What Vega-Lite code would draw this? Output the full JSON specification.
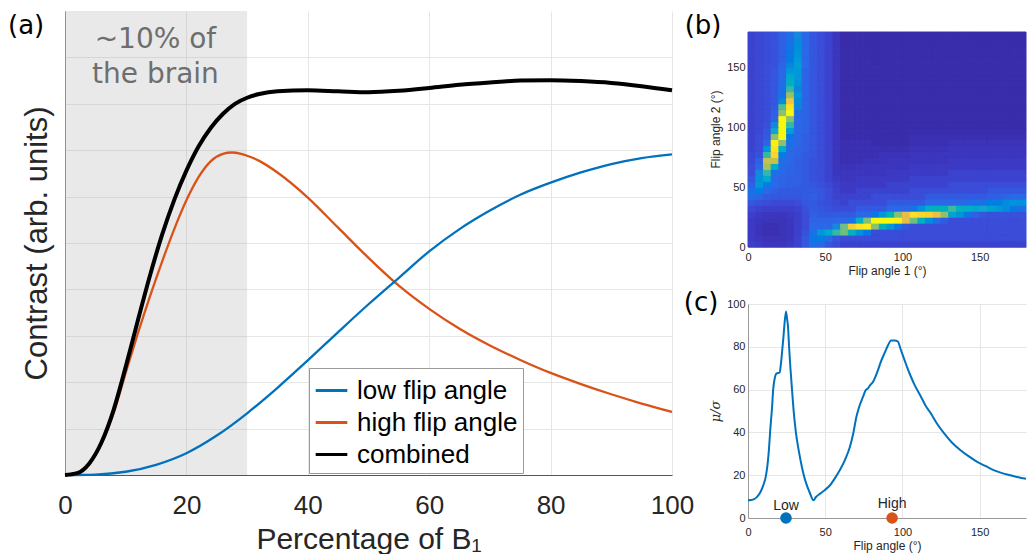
{
"$schema":"https://vega.github.io/schema/vega-lite/v6.json",
"background":"white",
"padding":{"left":8,"top":11,"right":0,"bottom":0},
"config":{"view":{"stroke":null},"font":"Liberation Sans",
"axis":{"labelFont":"Liberation Sans","titleFont":"Liberation Sans","titleFontWeight":"normal","labelColor":"#262626","titleColor":"#262626","labelFlush":false,"labelOverlap":false,"ticks":false,"domainColor":"#808080","gridColor":"#e6e6e6"}},
"resolve":{"scale":{"color":"independent","stroke":"independent"}},
"datasets":{
"curves":[
{"s":"combined","x":0,"v":0},{"s":"combined","x":2,"v":0.04},{"s":"combined","x":4,"v":0.25},{"s":"combined","x":6,"v":0.7},{"s":"combined","x":8,"v":1.4},{"s":"combined","x":10,"v":2.33},{"s":"combined","x":12,"v":3.33},{"s":"combined","x":14,"v":4.3},{"s":"combined","x":16,"v":5.18},{"s":"combined","x":18,"v":5.93},{"s":"combined","x":20,"v":6.56},{"s":"combined","x":22,"v":7.08},{"s":"combined","x":24,"v":7.48},{"s":"combined","x":26,"v":7.78},{"s":"combined","x":28,"v":8.0},{"s":"combined","x":30,"v":8.13},{"s":"combined","x":32,"v":8.21},{"s":"combined","x":35,"v":8.27},{"s":"combined","x":40,"v":8.29},{"s":"combined","x":45,"v":8.27},{"s":"combined","x":50,"v":8.25},{"s":"combined","x":55,"v":8.28},{"s":"combined","x":60,"v":8.34},{"s":"combined","x":65,"v":8.41},{"s":"combined","x":70,"v":8.46},{"s":"combined","x":75,"v":8.5},{"s":"combined","x":80,"v":8.51},{"s":"combined","x":85,"v":8.49},{"s":"combined","x":90,"v":8.45},{"s":"combined","x":95,"v":8.38},{"s":"combined","x":100,"v":8.29},
{"s":"high flip angle","x":0,"v":0},{"s":"high flip angle","x":2,"v":0.04},{"s":"high flip angle","x":4,"v":0.24},{"s":"high flip angle","x":6,"v":0.67},{"s":"high flip angle","x":8,"v":1.33},{"s":"high flip angle","x":10,"v":2.2},{"s":"high flip angle","x":12,"v":3.05},{"s":"high flip angle","x":14,"v":3.85},{"s":"high flip angle","x":16,"v":4.6},{"s":"high flip angle","x":18,"v":5.3},{"s":"high flip angle","x":20,"v":5.92},{"s":"high flip angle","x":22,"v":6.42},{"s":"high flip angle","x":24,"v":6.76},{"s":"high flip angle","x":26,"v":6.92},{"s":"high flip angle","x":27.5,"v":6.95},{"s":"high flip angle","x":29,"v":6.92},{"s":"high flip angle","x":30,"v":6.88},{"s":"high flip angle","x":32,"v":6.77},{"s":"high flip angle","x":35,"v":6.52},{"s":"high flip angle","x":40,"v":5.98},{"s":"high flip angle","x":45,"v":5.33},{"s":"high flip angle","x":50,"v":4.68},{"s":"high flip angle","x":55,"v":4.08},{"s":"high flip angle","x":60,"v":3.58},{"s":"high flip angle","x":65,"v":3.15},{"s":"high flip angle","x":70,"v":2.79},{"s":"high flip angle","x":75,"v":2.48},{"s":"high flip angle","x":80,"v":2.2},{"s":"high flip angle","x":85,"v":1.96},{"s":"high flip angle","x":90,"v":1.74},{"s":"high flip angle","x":95,"v":1.54},{"s":"high flip angle","x":100,"v":1.36},
{"s":"low flip angle","x":0,"v":0},{"s":"low flip angle","x":5,"v":0.01},{"s":"low flip angle","x":10,"v":0.07},{"s":"low flip angle","x":15,"v":0.22},{"s":"low flip angle","x":20,"v":0.47},{"s":"low flip angle","x":25,"v":0.85},{"s":"low flip angle","x":30,"v":1.33},{"s":"low flip angle","x":35,"v":1.88},{"s":"low flip angle","x":40,"v":2.47},{"s":"low flip angle","x":45,"v":3.08},{"s":"low flip angle","x":50,"v":3.68},{"s":"low flip angle","x":55,"v":4.25},{"s":"low flip angle","x":60,"v":4.82},{"s":"low flip angle","x":65,"v":5.3},{"s":"low flip angle","x":70,"v":5.7},{"s":"low flip angle","x":75,"v":6.04},{"s":"low flip angle","x":80,"v":6.3},{"s":"low flip angle","x":85,"v":6.52},{"s":"low flip angle","x":90,"v":6.7},{"s":"low flip angle","x":95,"v":6.83},{"s":"low flip angle","x":100,"v":6.91}
],
"heat":[
{"k":1,"y0":0,"y1":5,"vs":[7,6,5,5,5,6,8,12,18,16,12,10,8,8,8,8,8,8,8,8,8,8,8,8,8,8,8,8,8,8,8,8,8,8,8,8]},
{"k":1,"y0":5,"y1":10,"vs":[6,5,4,4,4,5,8,12,20,22,17,12,10,10,10,10,10,10,10,10,10,10,10,10,10,10,10,10,10,10,10,10,10,10,10,10]},
{"k":1,"y0":10,"y1":15,"vs":[6,4,3,3,4,5,7,11,18,30,38,50,60,44,28,20,10,10,10,10,10,10,10,10,10,10,10,10,10,10,10,10,10,10,10,10]},
{"k":1,"y0":15,"y1":20,"vs":[6,4,3,3,4,5,7,10,16,16,16,25,60,88,95,98,65,45,30,20,12,10,10,10,10,10,10,10,10,10,10,10,10,10,10,10]},
{"k":1,"y0":20,"y1":25,"vs":[6,5,4,4,4,5,7,10,15,15,15,16,16,18,43,64,100,100,100,98,80,60,41,27,17,13,10,10,10,10,10,10,10,10,10,10]},
{"k":1,"y0":25,"y1":30,"vs":[7,6,5,5,5,6,7,10,14,13,13,13,13,13,16,16,20,30,45,64,80,94,92,90,82,65,34,29,20,14,12,11,11,11,11,11]},
{"k":1,"y0":30,"y1":35,"vs":[9,8,7,7,7,7,8,11,13,12,11,10,10,10,13,13,13,13,16,16,16,19,28,40,45,42,52,44,40,37,35,33,31,26,20,18]},
{"k":1,"y0":35,"y1":40,"vs":[12,11,10,9,9,9,10,12,13,11,10,9,8,10,10,10,10,10,13,13,13,13,13,16,16,16,16,16,17,18,18,22,22,26,29,28]},
{"k":1,"y0":40,"y1":45,"vs":[17,15,13,12,12,12,12,13,14,12,10,8,8,8,8,8,10,10,10,10,10,10,10,13,13,13,13,13,13,13,13,14,14,15,16,16]},
{"k":1,"y0":45,"y1":50,"vs":[18,22,16,14,13,13,13,13,13,12,10,8,6,6,8,8,8,8,8,8,8,10,10,10,10,10,10,10,10,10,10,12,12,12,12,12]},
{"k":1,"y0":50,"y1":55,"vs":[14,30,22,16,15,14,14,13,12,11,9,7,6,6,6,6,6,6,8,8,8,8,8,8,8,8,10,10,10,10,10,10,10,10,10,10]},
{"k":1,"y0":55,"y1":60,"vs":[12,28,38,16,15,14,14,13,11,10,8,6,5,5,6,6,6,6,6,6,6,8,8,8,8,8,8,8,8,8,8,8,8,8,8,8]},
{"k":1,"y0":60,"y1":65,"vs":[10,25,50,18,16,15,14,13,11,10,8,5,5,5,5,5,5,5,6,6,6,6,6,6,6,6,8,8,8,8,8,8,8,8,8,8]},
{"k":1,"y0":65,"y1":70,"vs":[10,16,70,40,17,15,14,13,11,10,8,5,4,4,5,5,5,5,5,5,5,6,6,6,6,6,6,6,6,6,6,6,6,6,6,6]},
{"k":1,"y0":70,"y1":75,"vs":[9,14,75,75,18,16,14,13,11,10,8,5,3,3,3,4,4,4,5,5,5,5,5,5,5,5,6,6,6,6,6,6,6,6,6,6]},
{"k":1,"y0":75,"y1":80,"vs":[9,11,50,92,22,16,15,13,12,10,8,5,3,3,3,3,3,4,4,4,4,5,5,5,5,5,5,5,5,5,5,5,5,5,5,5]},
{"k":1,"y0":80,"y1":85,"vs":[8,10,28,95,40,17,15,14,12,10,8,5,3,3,3,3,3,3,3,3,3,4,4,4,4,4,5,5,5,5,5,5,5,5,5,5]},
{"k":1,"y0":85,"y1":90,"vs":[8,10,15,98,65,18,16,14,12,10,8,5,3,3,3,3,2,2,2,2,2,3,3,3,3,3,4,4,4,4,4,4,4,4,4,4]},
{"k":1,"y0":90,"y1":95,"vs":[8,10,13,65,100,20,16,14,12,10,8,5,2,2,2,2,2,2,2,2,2,3,3,3,3,3,3,3,3,3,3,3,3,3,3,3]},
{"k":1,"y0":95,"y1":100,"vs":[8,9,12,35,100,32,16,15,12,10,8,5,2,2,2,2,2,2,2,2,2,2,2,2,2,2,2,2,2,2,2,2,2,2,2,2]},
{"k":1,"y0":100,"y1":105,"vs":[8,9,11,25,100,50,16,15,12,10,8,5,2,2,2,2,2,2,2,2,2,2,2,2,2,2,2,2,2,2,2,2,2,2,2,2]},
{"k":1,"y0":105,"y1":110,"vs":[8,9,10,15,100,65,16,15,12,10,8,5,2,2,2,2,2,2,2,2,2,2,2,2,2,2,2,2,2,2,2,2,2,2,2,2]},
{"k":1,"y0":110,"y1":115,"vs":[8,9,10,14,65,100,17,15,12,10,8,5,2,2,2,2,2,2,2,2,2,2,2,2,2,2,2,2,2,2,2,2,2,2,2,2]},
{"k":1,"y0":115,"y1":120,"vs":[8,9,10,13,55,95,24,15,12,10,8,5,2,2,2,2,2,2,2,2,2,2,2,2,2,2,2,2,2,2,2,2,2,2,2,2]},
{"k":1,"y0":120,"y1":125,"vs":[8,9,10,12,26,85,26,15,12,10,8,5,2,2,2,2,2,2,2,2,2,2,2,2,2,2,2,2,2,2,2,2,2,2,2,2]},
{"k":1,"y0":125,"y1":130,"vs":[8,9,10,12,18,68,29,15,12,10,8,5,2,2,2,2,2,2,2,2,2,2,2,2,2,2,2,2,2,2,2,2,2,2,2,2]},
{"k":1,"y0":130,"y1":135,"vs":[8,9,10,12,18,50,24,15,12,10,8,5,2,2,2,2,2,2,2,2,2,2,2,2,2,2,2,2,2,2,2,2,2,2,2,2]},
{"k":1,"y0":135,"y1":140,"vs":[8,9,10,12,17,42,28,15,12,10,8,5,2,2,2,2,2,2,2,2,2,2,2,2,2,2,2,2,2,2,2,2,2,2,2,2]},
{"k":1,"y0":140,"y1":145,"vs":[8,9,10,12,16,37,30,15,12,10,8,5,2,2,2,2,2,2,2,2,2,2,2,2,2,2,2,2,2,2,2,2,2,2,2,2]},
{"k":1,"y0":145,"y1":150,"vs":[8,9,10,12,16,30,30,15,12,10,8,5,2,2,2,2,2,2,2,2,2,2,2,2,2,2,2,2,2,2,2,2,2,2,2,2]},
{"k":1,"y0":150,"y1":155,"vs":[8,9,10,11,15,24,32,16,12,10,8,5,2,2,2,2,2,2,2,2,2,2,2,2,2,2,2,2,2,2,2,2,2,2,2,2]},
{"k":1,"y0":155,"y1":160,"vs":[8,9,10,11,14,21,30,16,12,10,8,5,2,2,2,2,2,2,2,2,2,2,2,2,2,2,2,2,2,2,2,2,2,2,2,2]},
{"k":1,"y0":160,"y1":165,"vs":[8,9,10,11,14,20,28,16,12,10,8,5,2,2,2,2,2,2,2,2,2,2,2,2,2,2,2,2,2,2,2,2,2,2,2,2]},
{"k":1,"y0":165,"y1":170,"vs":[8,9,10,11,14,19,27,16,12,10,8,5,2,2,2,2,2,2,2,2,2,2,2,2,2,2,2,2,2,2,2,2,2,2,2,2]},
{"k":1,"y0":170,"y1":175,"vs":[8,9,10,11,14,18,26,16,12,10,8,5,2,2,2,2,2,2,2,2,2,2,2,2,2,2,2,2,2,2,2,2,2,2,2,2]},
{"k":1,"y0":175,"y1":180,"vs":[8,9,10,11,14,17,25,16,12,10,8,5,2,2,2,2,2,2,2,2,2,2,2,2,2,2,2,2,2,2,2,2,2,2,2,2]}
],
"cols":[{"k":1,"xs":[0,5,10,15,20,25,30,35,40,45,50,55,60,65,70,75,80,85,90,95,100,105,110,115,120,125,130,135,140,145,150,155,160,165,170,175],"xe":[5,10,15,20,25,30,35,40,45,50,55,60,65,70,75,80,85,90,95,100,105,110,115,120,125,130,135,140,145,150,155,160,165,170,175,180]}]
},
"hconcat":[
{
"width":607,"height":464,
"layer":[
{"data":{"values":[{"a":0,"b":30,"lo":0,"hi":10}]},
"mark":{"type":"rect","color":"#a8a8a8","opacity":0.25},
"encoding":{
"x":{"field":"a","type":"quantitative","scale":{"domain":[0,100],"nice":false},"title":"Percentage of B₁",
"axis":{"values":[0,20,40,60,80,100],"grid":true,"labelFontSize":26,"labelPadding":17,"titleFontSize":30,"titlePadding":6,"domainColor":"#555555"}},
"x2":{"field":"b"},
"y":{"field":"lo","type":"quantitative","scale":{"domain":[0,10],"nice":false},"title":"Contrast (arb. units)",
"axis":{"values":[0,1,2,3,4,5,6,7,8,9],"grid":true,"labels":false,"titleFontSize":31,"titlePadding":12,"domainColor":"#8a8a8a"}},
"y2":{"field":"hi"}}},
{"data":{"values":[{"x":14.9,"v":9.2,"t":"~10% of"},{"x":14.9,"v":8.44,"t":"the brain"}]},
"mark":{"type":"text","font":"DejaVu Sans","fontSize":28,"color":"#6e6e6e","align":"center","baseline":"alphabetic"},
"encoding":{"x":{"field":"x","type":"quantitative","title":"Percentage of B₁"},"y":{"field":"v","type":"quantitative","title":"Contrast (arb. units)"},"text":{"field":"t"}}},
{"data":{"name":"curves"},
"transform":[{"filter":"datum.s !== 'combined'"}],
"mark":{"type":"line","strokeWidth":2.3,"interpolate":"monotone"},
"encoding":{"x":{"field":"x","type":"quantitative","title":"Percentage of B₁"},"y":{"field":"v","type":"quantitative","title":"Contrast (arb. units)"},
"color":{"field":"s","type":"nominal","scale":{"domain":["low flip angle","high flip angle","combined"],"range":["#0072BD","#D95319","#000000"]},
"legend":{"orient":"none","legendX":244,"legendY":357,"title":null,"direction":"vertical","labelFont":"Liberation Sans","labelFontSize":26,"labelColor":"#000000","symbolType":"stroke","symbolStrokeWidth":3,"symbolSize":1000,"rowPadding":1,"padding":5,"fillColor":"#ffffff","strokeColor":"#9a9a9a","labelOffset":8,"labelLimit":400}}}},
{"data":{"name":"curves"},
"transform":[{"filter":"datum.s === 'combined'"}],
"mark":{"type":"line","strokeWidth":4,"interpolate":"monotone"},
"encoding":{"x":{"field":"x","type":"quantitative","title":"Percentage of B₁"},"y":{"field":"v","type":"quantitative","title":"Contrast (arb. units)"},
"color":{"field":"s","type":"nominal"}}},
{"data":{"values":[{"x":-6.4,"v":9.515,"t":"(a)"}]},
"mark":{"type":"text","font":"DejaVu Sans","fontSize":26,"color":"#000000","align":"center","baseline":"alphabetic"},
"encoding":{"x":{"field":"x","type":"quantitative","title":"Percentage of B₁"},"y":{"field":"v","type":"quantitative","title":"Contrast (arb. units)"},"text":{"field":"t"}}}
]},
{
"vconcat":[
{"width":278,"height":236,
"layer":[
{"data":{"name":"heat"},
"transform":[{"lookup":"k","from":{"data":{"name":"cols"},"key":"k","fields":["xs","xe"]}},{"flatten":["xs","xe","vs"],"as":["cx0","cx1","cv"]}],
"mark":{"type":"rect","strokeWidth":1},
"encoding":{
"x":{"field":"cx0","type":"quantitative","scale":{"domain":[0,180],"nice":false},"title":"Flip angle 1 (°)",
"axis":{"values":[0,50,100,150],"grid":false,"labelFontSize":11,"labelPadding":4,"titleFontSize":12,"titlePadding":3,"domainColor":"#a0a0a0"}},
"x2":{"field":"cx1"},
"y":{"field":"y0","type":"quantitative","scale":{"domain":[0,197.6],"nice":false},"title":"Flip angle 2 (°)",
"axis":{"values":[0,50,100,150],"grid":false,"domain":false,"labelFontSize":11,"labelPadding":3,"titleFontSize":12,"titlePadding":4}},
"y2":{"field":"y1"},
"color":{"field":"cv","type":"quantitative","scale":{"domain":[0,3,6,10,16,25,35,50,65,80,92,100],"range":["#38289e","#3b2fb2","#3c3ac4","#3a4cd8","#2b68e8","#1488dc","#0ea6d0","#33b9a6","#8cc070","#e6bd45","#fcd52a","#f7f810"]},"legend":null},
"stroke":{"field":"cv","type":"quantitative","scale":{"domain":[0,3,6,10,16,25,35,50,65,80,92,100],"range":["#38289e","#3b2fb2","#3c3ac4","#3a4cd8","#2b68e8","#1488dc","#0ea6d0","#33b9a6","#8cc070","#e6bd45","#fcd52a","#f7f810"]},"legend":null}}},
{"data":{"values":[{"x":-29.1,"y":178.6,"t":"(b)"}]},
"mark":{"type":"text","font":"DejaVu Sans","fontSize":26,"color":"#000000","align":"center","baseline":"alphabetic"},
"encoding":{"x":{"field":"x","type":"quantitative","title":"Flip angle 1 (°)"},"y":{"field":"y","type":"quantitative","title":"Flip angle 2 (°)"},"text":{"field":"t"}}}
]},
{"width":278,"height":214,
"layer":[
{"data":{"values":[
{"a":0,"m":8.3},{"a":2,"m":8.4},{"a":4,"m":8.8},{"a":6,"m":10},{"a":8,"m":12},{"a":10,"m":15.5},{"a":11.4,"m":19},{"a":12.5,"m":24},{"a":13.5,"m":31.5},{"a":14.5,"m":42},{"a":15.6,"m":52},{"a":16.3,"m":60},{"a":17.1,"m":64.5},{"a":18.4,"m":67.5},{"a":20.5,"m":68},{"a":21.3,"m":72},{"a":22,"m":77},{"a":23,"m":85},{"a":23.5,"m":89.5},{"a":24.6,"m":96.5},{"a":25.3,"m":93},{"a":25.9,"m":89.5},{"a":26.6,"m":80},{"a":27.4,"m":70.8},{"a":28.5,"m":60},{"a":29.5,"m":50.5},{"a":31,"m":40},{"a":32.8,"m":31.7},{"a":35,"m":23.5},{"a":37,"m":17.7},{"a":40,"m":11.8},{"a":42.4,"m":8.3},{"a":44,"m":9.8},{"a":46.7,"m":11.4},{"a":50,"m":13.2},{"a":53.1,"m":15.3},{"a":56,"m":18.3},{"a":59.5,"m":22.4},{"a":63,"m":27.5},{"a":66,"m":33.3},{"a":68,"m":39},{"a":70.2,"m":47.3},{"a":72,"m":52},{"a":74.5,"m":56.7},{"a":76,"m":59.5},{"a":77.7,"m":60.6},{"a":79,"m":62},{"a":80.9,"m":63.5},{"a":82.5,"m":66},{"a":84.1,"m":69},{"a":86,"m":73},{"a":88.4,"m":77},{"a":90.5,"m":80.5},{"a":92.7,"m":83},{"a":95,"m":83},{"a":97,"m":82.5},{"a":99,"m":78.5},{"a":101.3,"m":73.9},{"a":103,"m":70.5},{"a":105.5,"m":66},{"a":108,"m":62},{"a":112,"m":56.7},{"a":115,"m":52.5},{"a":118.4,"m":48.9},{"a":122,"m":44.5},{"a":127,"m":39.5},{"a":132,"m":35.3},{"a":137.6,"m":31.7},{"a":143,"m":28.8},{"a":148.4,"m":26.2},{"a":154,"m":24.2},{"a":159,"m":22.4},{"a":164,"m":21.1},{"a":169.8,"m":20},{"a":175,"m":19},{"a":180,"m":18.3}
]},
"mark":{"type":"line","color":"#0072BD","strokeWidth":2,"interpolate":"monotone"},
"encoding":{
"x":{"field":"a","type":"quantitative","scale":{"domain":[0,180],"nice":false},"title":"Flip angle (°)",
"axis":{"values":[0,50,100,150],"grid":true,"labelFontSize":11,"labelPadding":8,"titleFontSize":12,"titlePadding":3,"domainColor":"#9a9a9a"}},
"y":{"field":"m","type":"quantitative","scale":{"domain":[0,100],"nice":false},"title":"μ/σ",
"axis":{"values":[0,20,40,60,80,100],"grid":true,"labelFontSize":11,"labelPadding":3,"titleFontSize":13,"titleFont":"DejaVu Serif","titleFontStyle":"italic","titlePadding":4,"domainColor":"#9a9a9a"}}}},
{"data":{"values":[{"a":24.6,"m":0}]},"mark":{"type":"circle","size":135,"opacity":1,"color":"#0072BD"},
"encoding":{"x":{"field":"a","type":"quantitative","title":"Flip angle (°)"},"y":{"field":"m","type":"quantitative","title":"μ/σ"}}},
{"data":{"values":[{"a":93.3,"m":0}]},"mark":{"type":"circle","size":135,"opacity":1,"color":"#D95319"},
"encoding":{"x":{"field":"a","type":"quantitative","title":"Flip angle (°)"},"y":{"field":"m","type":"quantitative","title":"μ/σ"}}},
{"data":{"values":[{"a":24.6,"m":3.9,"t":"Low"},{"a":93.3,"m":4.6,"t":"High"}]},
"mark":{"type":"text","fontSize":14,"color":"#262626","align":"center","baseline":"alphabetic"},
"encoding":{"x":{"field":"a","type":"quantitative","title":"Flip angle (°)"},"y":{"field":"m","type":"quantitative","title":"μ/σ"},"text":{"field":"t"}}},
{"data":{"values":[{"a":-30.4,"m":96.5,"t":"(c)"}]},
"mark":{"type":"text","font":"DejaVu Sans","fontSize":26,"color":"#000000","align":"center","baseline":"alphabetic"},
"encoding":{"x":{"field":"a","type":"quantitative","title":"Flip angle (°)"},"y":{"field":"m","type":"quantitative","title":"μ/σ"},"text":{"field":"t"}}}
]}
],
"spacing":57,
"bounds":"flush"
}
],
"spacing":-11,
"bounds":"full"
}
